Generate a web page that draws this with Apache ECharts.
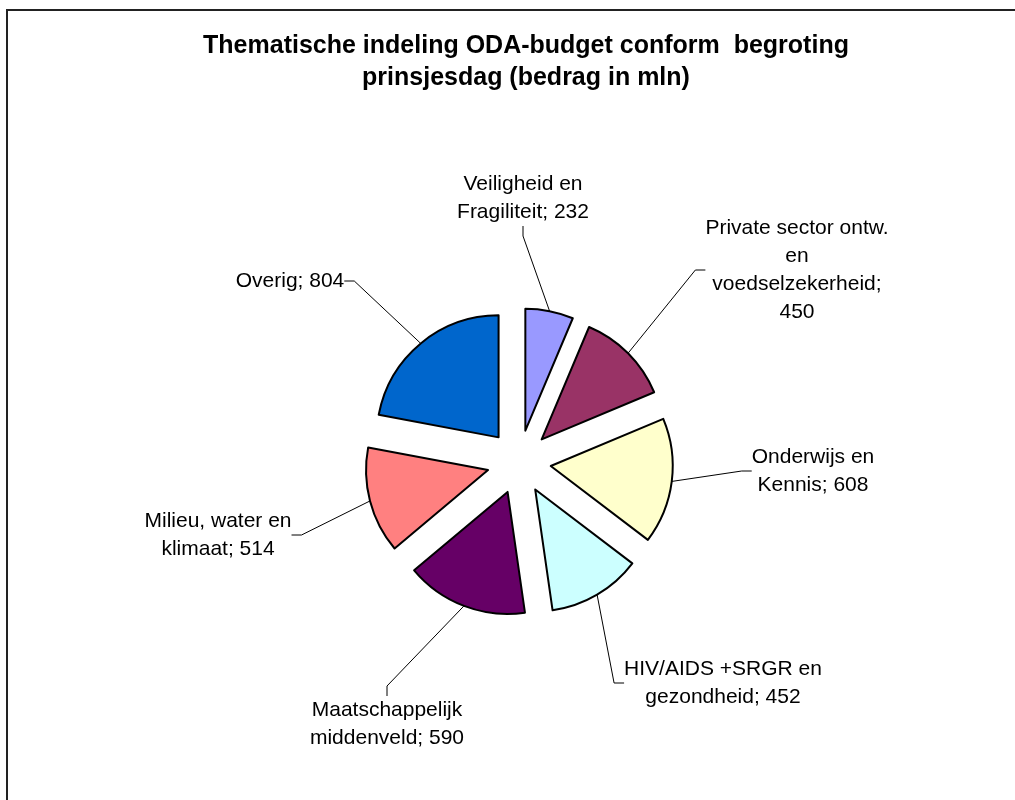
<!DOCTYPE html>
<html>
<head>
<meta charset="utf-8">
<script src="https://cdn.jsdelivr.net/npm/echarts@6/dist/echarts.min.js"></script>
<style>
html,body{margin:0;padding:0;background:#fff;}
#chart{width:1015px;height:800px;}
</style>
</head>
<body>
<div id="chart"></div>
<script>
// ---- data ----
const categories = [
  'Veiligheid en\nFragiliteit',
  'Private sector ontw.\nen\nvoedselzekerheid',
  'Onderwijs en\nKennis',
  'HIV/AIDS +SRGR en\ngezondheid',
  'Maatschappelijk\nmiddenveld',
  'Milieu, water en\nklimaat',
  'Overig'
];
const values = [232, 450, 608, 452, 590, 514, 804];
const valueOnNewLine = [false, true, false, false, false, false, false];
const colors = ['#9999FF', '#993366', '#FFFFCC', '#CCFFFF', '#660066', '#FF8080', '#0066CC'];
// label centre positions (layout only)
const labelPos = [
  [523, 198], [797, 270], [813, 471], [723, 683], [387, 724], [218, 535], [290, 281]
];

const CENTER = [519, 462];
const R = 122;
const EXPLODE = 32;

const chart = echarts.init(document.getElementById('chart'), null, {renderer: 'canvas'});
const option = {
  animation: false,
  backgroundColor: '#ffffff',
  title: {
    text: 'Thematische indeling ODA-budget conform  begroting\nprinsjesdag (bedrag in mln)',
    left: 521,
    top: 25,
    textAlign: 'center',
    textStyle: {
      fontFamily: 'Liberation Sans',
      fontWeight: 'bold',
      fontSize: 25,
      lineHeight: 32,
      color: '#000'
    }
  },
  graphic: [
    {type: 'line', shape: {x1: 7, y1: 10, x2: 1015, y2: 10}, style: {stroke: '#222', lineWidth: 2}},
    {type: 'line', shape: {x1: 7, y1: 9, x2: 7, y2: 800}, style: {stroke: '#222', lineWidth: 2}}
  ],
  series: [{
    type: 'pie',
    center: CENTER,
    radius: R,
    startAngle: 90,
    clockwise: true,
    selectedMode: 'multiple',
    selectedOffset: EXPLODE,
    avoidLabelOverlap: false,
    emphasis: {disabled: true},
    select: {itemStyle: {borderColor: '#000', borderWidth: 2}},
    itemStyle: {borderColor: '#000', borderWidth: 2},
    label: {show: false},
    labelLine: {show: false},
    data: categories.map((c, i) => ({
      name: c,
      value: values[i],
      selected: true,
      itemStyle: {color: colors[i]}
    }))
  }, {
    // invisible ring used only to carry the labels and leader lines
    type: 'pie',
    center: CENTER,
    radius: R + EXPLODE,
    startAngle: 90,
    clockwise: true,
    silent: true,
    selectedMode: false,
    avoidLabelOverlap: false,
    emphasis: {disabled: true},
    itemStyle: {color: 'rgba(0,0,0,0)', borderWidth: 0},
    label: {
      show: true,
      position: 'outside',
      fontFamily: 'Liberation Sans',
      fontSize: 21,
      lineHeight: 28,
      color: '#000',
      align: 'center',
      formatter: p => p.name + ';' + (valueOnNewLine[p.dataIndex] ? '\n' : ' ') + p.value
    },
    labelLine: {show: true, lineStyle: {color: '#000', width: 1}, length: 10, length2: 10},
    labelLayout: p => ({
      x: labelPos[p.dataIndex][0],
      y: labelPos[p.dataIndex][1],
      align: 'center',
      verticalAlign: 'middle'
    }),
    data: categories.map((c, i) => ({name: c, value: values[i]}))
  }]
};
chart.setOption(option);
</script>
</body>
</html>
